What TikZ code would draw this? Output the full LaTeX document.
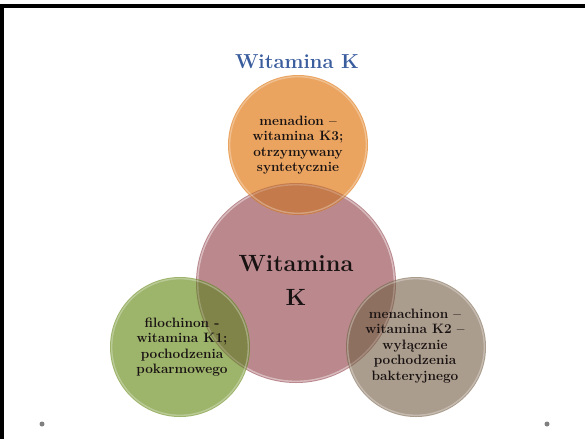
\documentclass[tikz,border=0pt]{standalone}
\usepackage{tikz}
\definecolor{titleblue}{RGB}{58,93,158}
\definecolor{pinkC}{RGB}{186,136,141}
\definecolor{orangeC}{RGB}{234,164,96}
\definecolor{orangeOv}{RGB}{196,122,74}
\definecolor{greenC}{RGB}{157,180,107}
\definecolor{greenOv}{RGB}{128,132,72}
\definecolor{brownC}{RGB}{171,157,141}
\definecolor{brownOv}{RGB}{142,112,96}
\definecolor{txt}{RGB}{25,18,18}
\definecolor{dotgray}{RGB}{128,128,128}
\tikzset{
  disc/.style={circle, inner sep=0pt, draw=none},
  rim/.style={draw=white, draw opacity=0.3, line width=1.4pt},
  smalltext/.style={align=center, text=txt, font=\fontsize{13.6}{15.4}\selectfont\bfseries},
}
\begin{document}
\begin{tikzpicture}[x=1pt,y=-1pt]
\useasboundingbox (0,0) rectangle (585,439);
\fill[white] (0,0) rectangle (585,439);
\fill[black] (0,4) rectangle (585,8);
\fill[black] (0,4) rectangle (4,439);
% title
\node[font=\fontsize{20.2}{25}\selectfont\bfseries, text=titleblue] (title) at (297,62) {Witamina K};
% main circle
\node[disc, minimum size=200pt, fill=pinkC] (main) at (296,283) {};
\draw[rim] (296,283) circle (98.3pt);
% satellites
\node[disc, minimum size=140pt, fill=orangeC] (top) at (298,145) {};
\node[disc, minimum size=140pt, fill=greenC] (left) at (180,347) {};
\node[disc, minimum size=140pt, fill=brownC] (right) at (416,347) {};
% overlaps
\begin{scope}
  \clip (296,283) circle (100pt);
  \fill[orangeOv] (298,145) circle (70pt);
  \fill[greenOv] (180,347) circle (70pt);
  \fill[brownOv] (416,347) circle (70pt);
  \draw[white, opacity=0.2, line width=1.4pt] (296,283) circle (98.3pt);
\end{scope}
\draw[rim] (298,145) circle (68.3pt);
\draw[rim] (180,347) circle (68.3pt);
\draw[rim] (416,347) circle (68.3pt);
% texts
\node[align=center, text=txt, font=\fontsize{23.5}{34}\selectfont\bfseries] (maintext) at (296,280) {Witamina\\K};
\node[smalltext] (toptext) at (298,145) {menadion --\\witamina K3;\\otrzymywany\\syntetycznie};
\node[smalltext] (lefttext) at (182,347) {filochinon -\\witamina K1;\\pochodzenia\\pokarmowego};
\node[smalltext] (righttext) at (415,346) {menachinon --\\witamina K2 --\\wyłącznie\\pochodzenia\\bakteryjnego};
% dots
\fill[dotgray] (42,424) circle (2.5pt);
\fill[dotgray] (547,424) circle (2.5pt);
\end{tikzpicture}
\end{document}
